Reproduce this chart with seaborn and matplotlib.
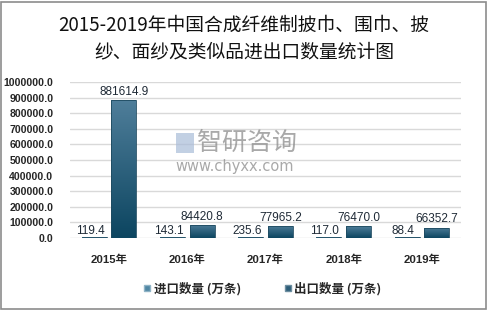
import numpy as np
import pandas as pd
import matplotlib
matplotlib.use("Agg")
import matplotlib.pyplot as plt
import seaborn as sns
from matplotlib.colors import LinearSegmentedColormap
from matplotlib.patches import Rectangle
from matplotlib.lines import Line2D

years = ["2015年", "2016年", "2017年", "2018年", "2019年"]
import_vals = [119.4, 143.1, 235.6, 117.0, 88.4]
export_vals = [881614.9, 84420.8, 77965.2, 76470.0, 66352.7]
series = ["进口数量 (万条)", "出口数量 (万条)"]
yticks = [0, 100000, 200000, 300000, 400000, 500000, 600000, 700000, 800000, 900000, 1000000]

df = pd.DataFrame({
    "year": years * 2,
    "series": [series[0]] * len(years) + [series[1]] * len(years),
    "value": import_vals + export_vals,
})

sns.set_theme(style="white")
plt.rcParams['font.family'] = ['Liberation Sans', 'Noto Sans CJK SC', 'DejaVu Sans']

fig = plt.figure(figsize=(4.88, 3.10), dpi=100)
ax = fig.add_axes([70 / 488, 1 - 238 / 310, (461 - 70) / 488, (238 - 82) / 310])

imp_color = "#4f86a3"
exp_color = "#2d5d78"
sns.barplot(data=df, x="year", y="value", hue="series", hue_order=series,
            palette=[imp_color, exp_color], width=0.76, gap=0.16, ax=ax,
            legend=True, saturation=1, edgecolor="none", linewidth=0)

ax.set_ylim(0, 1000000)
ax.set_yticks(yticks)
ax.set_yticklabels([f"{v:.1f}" for v in yticks])
ax.yaxis.grid(True, color="#d9d9d9", linewidth=1)
ax.set_axisbelow(True)
for s in ax.spines.values():
    s.set_visible(False)
ax.set_xlabel("")
ax.set_ylabel("")
ax.tick_params(axis="both", length=0)
ax.tick_params(axis="y", pad=12)
ax.tick_params(axis="x", pad=12)
for lab in ax.get_yticklabels():
    lab.set_fontsize(7.6)
    lab.set_fontweight("bold")
    lab.set_color("#262626")
for lab in ax.get_xticklabels():
    lab.set_fontsize(8.2)
    lab.set_fontweight("bold")
    lab.set_color("#262626")

# gradient fill for bars
cm_exp = LinearSegmentedColormap.from_list("e", ["#0c4560", "#4f7e9a"])
cm_imp = LinearSegmentedColormap.from_list("i", ["#3f7a98", "#6a9cb6"])
grad = np.linspace(0, 1, 256).reshape(-1, 1)
for i, cont in enumerate(ax.containers):
    cmap = cm_imp if i == 0 else cm_exp
    for bar in cont:
        x0, y0 = bar.get_x(), bar.get_y()
        w, h = bar.get_width(), bar.get_height()
        if h <= 0:
            continue
        hh = max(h, 4000)
        im = ax.imshow(grad, extent=[x0, x0 + w, y0, y0 + hh], origin="lower",
                       aspect="auto", cmap=cmap, zorder=2.5)
        clip = Rectangle((x0, y0), w, hh, transform=ax.transData, facecolor="none",
                         edgecolor="none")
        ax.add_patch(clip)
        im.set_clip_path(clip)
        bar.set_alpha(0)
        edge = Rectangle((x0, y0), w, hh, facecolor="none",
                         edgecolor="#1e4a60", linewidth=0.6, zorder=2.6)
        ax.add_patch(edge)
ax.set_xlim(-0.5, len(years) - 0.5)
ax.set_ylim(0, 1000000)

# data labels
for i, cont in enumerate(ax.containers):
    vals = import_vals if i == 0 else export_vals
    for bar, v in zip(cont, vals):
        cx = bar.get_x() + bar.get_width() / 2
        if i == 0:
            ax.text(cx - 0.05, 8000, f"{v:.1f}", ha="center", va="bottom",
                    fontsize=8.5, color="#1f2a36", clip_on=False)
        else:
            ax.text(cx, v + 14000, f"{v:.1f}", ha="center", va="bottom",
                    fontsize=8.5, color="#1f2a36", clip_on=False)

# legend
ax.legend_.remove()
lh = [Line2D([], [], marker="s", linestyle="none", markersize=5,
             markerfacecolor=imp_color, markeredgecolor="#8fb3c6"),
      Line2D([], [], marker="s", linestyle="none", markersize=5,
             markerfacecolor=exp_color, markeredgecolor="#6d8ea0")]
leg = fig.legend(lh, series, loc="center", bbox_to_anchor=(262 / 488, 1 - 289 / 310),
                 ncol=2, frameon=False, handletextpad=0.1, columnspacing=3.4,
                 handlelength=0.8, prop={"family": ["Noto Sans CJK SC"], "size": 9,
                                        "weight": "bold"})
for t in leg.get_texts():
    t.set_color("#262626")

# title
fig.text(0.5, 1 - 25 / 310, "2015-2019年中国合成纤维制披巾、围巾、披",
         ha="center", va="center", fontsize=13.5, family=["Noto Sans CJK SC"],
         weight="medium", color="#111111")
fig.text(0.5, 1 - 52 / 310, "纱、面纱及类似品进出口数量统计图",
         ha="center", va="center", fontsize=13.5, family=["Noto Sans CJK SC"],
         weight="medium", color="#111111")

# watermark
fig.text(197 / 488, 1 - 143 / 310, "智研咨询", ha="left", va="center", fontsize=18,
         family=["Noto Sans CJK SC"], color="#8c8c8c", alpha=0.75)
fig.text(175 / 488, 1 - 167 / 310, "www.chyxx.com", ha="left", va="center",
         fontsize=10.5, color="#8c8c8c", alpha=0.75, family=["DejaVu Sans"])
fig.patches.append(Rectangle((176 / 488, 1 - 153 / 310), 18 / 488, 20 / 310,
                             transform=fig.transFigure, facecolor="#a9bcd8",
                             edgecolor="none", alpha=0.7))

# border
fig.patches.append(Rectangle((0.002, 0.003), 0.994, 0.992, transform=fig.transFigure,
                             facecolor="none", edgecolor="#8c8c8c", linewidth=1.2))

fig.savefig("out.png", dpi=100)
